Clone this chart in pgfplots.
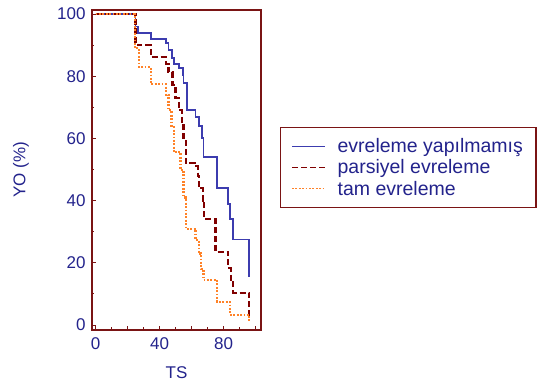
\documentclass[border=0pt]{standalone}
\usepackage{fontspec}
\setmainfont{Liberation Sans}
\usepackage{pgfplots}
\pgfplotsset{compat=1.18}
\definecolor{navytext}{RGB}{35,35,140}
\definecolor{frame}{RGB}{122,20,20}
\definecolor{lblue}{RGB}{60,60,175}
\definecolor{ldred}{RGB}{128,0,0}
\definecolor{lorange}{RGB}{255,130,40}
\begin{document}
\begin{tikzpicture}
\path[use as bounding box] (0,0) rectangle (547pt,388pt);
\begin{axis}[
  at={(92pt,58pt)}, anchor=south west,
  scale only axis, width=169pt, height=320pt,
  xmin=-2.2, xmax=103.4, ymin=-1.6, ymax=101.3,
  axis line style={frame, line width=1.6pt},
  tick style={frame, line width=1pt},
  major tick length=4pt, minor tick length=2.5pt,
  tick align=inside, tick pos=left,
  xtick={0,20,40,60,80,100}, xticklabels={0,,40,,80,},
  minor xtick={10,30,50,70,90},
  ytick={0,20,40,60,80,100},
  minor ytick={10,30,50,70,90},
  /pgf/number format/assume math mode=true,
  ticklabel style={font=\fontsize{17}{20}\selectfont, text=navytext},
  yticklabel style={xshift=-3pt},
  xticklabel style={yshift=-4pt},
  xlabel={TS}, ylabel={YO (\%)},
  every axis x label/.style={at={(axis description cs:0.5,-0.134)}, anchor=center,
    font=\fontsize{17}{20}\selectfont, text=navytext},
  every axis y label/.style={at={(axis description cs:-0.42,0.5)}, rotate=90, anchor=center,
    font=\fontsize{17}{20}\selectfont, text=navytext},
  legend image code/.code={\draw[#1, line width=1pt] (0pt,0pt) -- (33pt,0pt);},
  legend style={at={(axis description cs:1.1124,0.634)}, anchor=north west,
    draw=frame, line width=1.2pt, font=\fontsize{19.5}{22}\selectfont, text=navytext,
    inner xsep=11pt, inner ysep=9pt, row sep=1.5pt,
    nodes={inner sep=2pt},
    /tikz/every odd column/.append style={column sep=10pt}},
  legend cell align=left,
]
\addplot[const plot, lblue, line width=1.9pt] coordinates {
(0,100)(25,96)(26.5,94)(34.4,92)(43.8,90.7)(45.6,88.4)(48,86)(48.8,84)(52,82.6)(54.4,80.4)(55,77.8)(57,69)(62.5,67)(64.4,64)(66.5,60)(67.5,54)(76,44)(83,39)(84,34)(86,27.5)(96,15.5)
};
\addlegendentry{evreleme yapılmamış}
\addplot[const plot, ldred, line width=2.1pt, dash pattern=on 6pt off 3pt] coordinates {
(0,100)(25,91)(26.5,90)(34.4,86.2)(43.8,84)(45.6,81.3)(48.1,77.2)(50,73)(51.9,69)(53.8,64.3)(55,60)(56.3,52)(62,51)(64,48)(64.4,44)(67,40)(68,34)(75,23.5)(83,18.3)(84.4,14.5)(86,10.3)(96,3)
};
\addlegendentry{parsiyel evreleme}
\addplot[const plot, lorange, line width=2.1pt, dash pattern=on 1.8pt off 1.6pt] coordinates {
(0,100)(24.4,89)(27,83)(34.4,77.5)(43.8,74)(45.6,69)(47.5,63.7)(48.8,55.6)(53.1,49.8)(55,41)(56.3,31)(62.5,27.3)(64.4,23)(66,18)(67.5,14.5)(76,7.4)(84,3.3)(96,0.8)
};
\addlegendentry{tam evreleme}
\end{axis}
\end{tikzpicture}
\end{document}
